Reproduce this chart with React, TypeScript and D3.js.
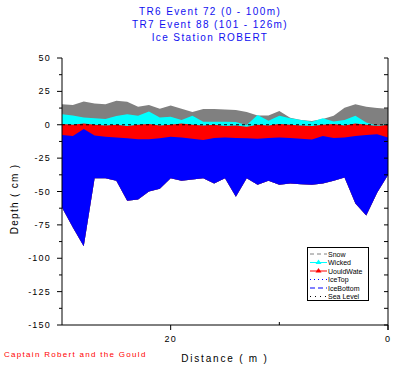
import React from "react";
import * as d3 from "d3";

const distance = [30,29,28,27,26,25,24,23,22,21,20,19,18,17,16,15,14,13,12,11,10,9,8,7,6,5,4,3,2,1,0];
const snowTop = [15.3,14.8,17.5,16,15.3,18,17.3,13.5,14.8,12,14.5,12,9.5,11.8,11.8,11.5,11,9.5,7,7,10.3,5.3,3.6,2.8,4.3,6.8,12.8,15.3,13.5,12.5,12];
const wickedTop = [7.8,7,5.5,4.8,4.3,6.5,7.8,6.8,10,5.5,6,3.6,6.8,2.3,2.3,2.3,2,-0.2,7.3,3,6.8,4.8,3.6,2.3,4.8,2.5,3.6,6.8,1.6,-0.8,0.8];
const waterTop = [0.5,0,1,0,-0.5,0,-1,0,0.5,-0.5,0,1,0,-0.5,0,-1,-0.5,-1.5,0,-0.5,0.5,0,-0.5,-1,0,0.5,-0.5,1,0,-1,0];
const iceTop = [-7.7,-8.4,-3.2,-8,-9,-9.5,-10.2,-10.9,-10.9,-10.2,-8.9,-9.6,-10.5,-11.4,-10,-9.5,-10,-10.2,-10.5,-10,-9.5,-10,-10.5,-11,-8.5,-10,-9.5,-8.5,-7.7,-7.2,-9.5];
const iceBottom = [-62,-77,-91,-40,-40,-42,-57,-56,-50,-48,-40,-42,-41,-40,-44,-40,-54,-40,-45,-42,-45,-44,-44.5,-45,-44,-42,-39.5,-59,-68,-51,-37.6];

const yTicks = [50,25,0,-25,-50,-75,-100,-125,-150];
const yMinor = [37.5,12.5,-12.5,-37.5,-62.5,-87.5,-112.5,-137.5];
const xTickLabels = [20,0];
const xMinor = [10];
const titleLines = ["TR6 Event 72 (0 - 100m)", "TR7 Event 88 (101 - 126m)", "Ice Station ROBERT"];
const legendItems = [
  { label: "Snow", color: "#808080", dash: "4,3", marker: false },
  { label: "Wicked", color: "#00ffff", dash: "", marker: true },
  { label: "UouldWate", color: "#ff0000", dash: "", marker: true },
  { label: "IceTop", color: "#0000ff", dash: "1,3", marker: false },
  { label: "IceBottom", color: "#0000ff", dash: "5,3", marker: false },
  { label: "Sea Level", color: "#000000", dash: "1,4", marker: false },
];

const FONT = "'Liberation Sans', Arial, sans-serif";

export default function App() {
  const x = d3.scaleLinear().domain([30, 0]).range([62, 388]);
  const y = d3.scaleLinear().domain([-150, 50]).range([325, 58]);
  const idx = distance.map((_, i) => i);

  const band = (top: number[], bottom: number[]) =>
    d3.area<number>()
      .x((i) => x(distance[i]))
      .y0((i) => y(bottom[i]))
      .y1((i) => y(top[i]))(idx) || "";

  return (
    <div style={{ position: "absolute", left: 0, top: 0 }}>
      <svg width={400} height={375} style={{ display: "block", background: "#fff" }} fontFamily={FONT}>
        {titleLines.map((t, i) => (
          <text key={t} x={210} y={15 + i * 13} textAnchor="middle" fontSize={10} letterSpacing={1.4} fill="#1010f0">{t}</text>
        ))}

        <path d={band(snowTop, iceBottom)} fill="#808080" />
        <path d={band(wickedTop, iceBottom)} fill="#00ffff" />
        <path d={band(waterTop, iceBottom)} fill="#ff0000" />
        <path d={band(iceTop, iceBottom)} fill="#0000ff" />
        <line x1={x(30)} x2={x(0)} y1={y(0)} y2={y(0)} stroke="#000" strokeDasharray="3,3" strokeWidth={1} />

        {/* left axis */}
        <line x1={62} x2={62} y1={y(50)} y2={y(-150)} stroke="#000" />
        {yTicks.map((t) => (
          <g key={t}>
            <line x1={57} x2={62} y1={y(t)} y2={y(t)} stroke="#000" />
            <text x={51} y={y(t) + 3} textAnchor="end" fontSize={9} letterSpacing={1.2}>{t}</text>
          </g>
        ))}
        {yMinor.map((t) => (
          <line key={t} x1={59} x2={62} y1={y(t)} y2={y(t)} stroke="#000" />
        ))}
        {/* right axis */}
        <line x1={388} x2={388} y1={y(50)} y2={y(-150) + 5} stroke="#000" />
        {[...yTicks, ...yMinor].map((t) => (
          <line key={"r" + t} x1={384} x2={388} y1={y(t)} y2={y(t)} stroke="#000" />
        ))}
        {/* bottom axis */}
        <line x1={62} x2={388} y1={325} y2={325} stroke="#000" />
        {xTickLabels.map((t) => (
          <g key={t}>
            <line x1={x(t)} x2={x(t)} y1={325} y2={330} stroke="#000" />
            <text x={x(t)} y={342} textAnchor="middle" fontSize={9} letterSpacing={1.2}>{t}</text>
          </g>
        ))}
        {xMinor.map((t) => (
          <line key={t} x1={x(t)} x2={x(t)} y1={325} y2={322} stroke="#000" />
        ))}

        <text transform="translate(18,199) rotate(-90)" textAnchor="middle" fontSize={10} letterSpacing={1.3}>Depth ( cm )</text>
        <text x={225} y={362} textAnchor="middle" fontSize={10} letterSpacing={1.8}>Distance ( m )</text>
        <text x={4} y={357} fontSize={8} letterSpacing={1.3} fill="#ff0000">Captain Robert and the Gould</text>

        {/* legend */}
        <rect x={307.5} y={247.5} width={61} height={53} fill="#fff" stroke="#000" />
        {legendItems.map((it, i) => {
          const cy = 254 + i * 8.5;
          return (
            <g key={it.label}>
              <line x1={310} x2={327} y1={cy} y2={cy} stroke={it.color} strokeWidth={1} strokeDasharray={it.dash || undefined} />
              {it.marker && <path d={`M${318.5},${cy - 3}L${321.5},${cy + 1.5}L${315.5},${cy + 1.5}Z`} fill={it.color} />}
              <text x={328} y={cy + 2.5} fontSize={7}>{it.label}</text>
            </g>
          );
        })}
      </svg>
    </div>
  );
}
